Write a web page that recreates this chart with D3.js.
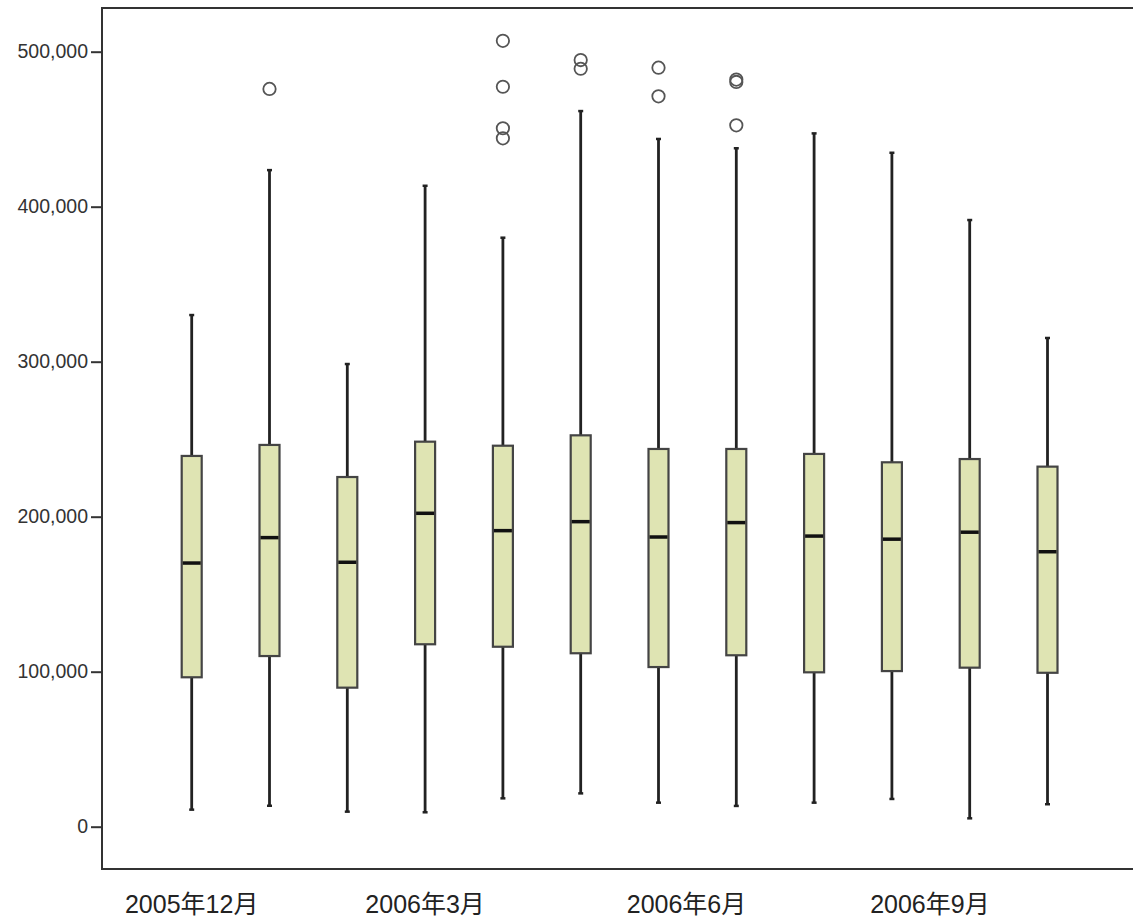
<!DOCTYPE html>
<html>
<head>
<meta charset="utf-8">
<script src="https://cdn.jsdelivr.net/npm/d3@7/dist/d3.min.js"></script>
<style>
  html, body { margin: 0; padding: 0; background: #fff; }
  svg { display: block; }
</style>
</head>
<body>
<script>
// ---- data ----
const categories = ["2005年12月","2006年1月","2006年2月","2006年3月","2006年4月","2006年5月",
                    "2006年6月","2006年7月","2006年8月","2006年9月","2006年10月","2006年11月"];
const shownLabels = ["2005年12月","2006年3月","2006年6月","2006年9月"];
const whiskerLow  = [11000, 13500, 9700, 9300, 18300, 21500, 15500, 13400, 15500, 17900, 5400, 14500];
const q1          = [96400, 110100, 89700, 117700, 116100, 111900, 103000, 110600, 99600, 100400, 102600, 99300];
const medians     = [170100, 186500, 170600, 202200, 191000, 196800, 186900, 196200, 187500, 185500, 190000, 177400];
const q3          = [239200, 246300, 225600, 248400, 245800, 252500, 243700, 243700, 240500, 235100, 237200, 232300];
const whiskerHigh = [330100, 423600, 298500, 413500, 380000, 461700, 443700, 437700, 447300, 434800, 391400, 315300];
const outliers    = [[], [476000], [], [], [507000, 477400, 450600, 444100], [494600, 489000],
                     [489700, 471200], [482000, 480500, 452500], [], [], [], []];
const yTicks = [0, 100000, 200000, 300000, 400000, 500000];

// ---- layout ----
const W = 1133, H = 922;
const frame = {left: 102, top: 8, right: 1145, bottom: 869};
const svg = d3.select("body").append("svg").attr("width", W).attr("height", H);

const x = d3.scalePoint().domain(categories).range([191.7, 1047.5]);
const y = d3.scaleLinear().domain([0, 500000]).range([826.7, 51.7]);
const boxW = 20;

// frame
svg.append("rect")
  .attr("x", frame.left).attr("y", frame.top)
  .attr("width", frame.right - frame.left).attr("height", frame.bottom - frame.top)
  .attr("fill", "none").attr("stroke", "#333").attr("stroke-width", 2);

// y axis
const yAxis = d3.axisLeft(y).tickValues(yTicks).tickFormat(d3.format(",")).tickSize(11).tickPadding(3);
const gy = svg.append("g").attr("transform", `translate(${frame.left},0)`).call(yAxis);
gy.select(".domain").remove();
gy.selectAll(".tick line").attr("stroke", "#333").attr("stroke-width", 2);
gy.selectAll(".tick text")
  .attr("fill", "#333")
  .style("font-family", "'Liberation Sans', Arial, sans-serif")
  .style("font-size", "19.5px");

// x labels
const labelNudge = {"2006年6月": 28, "2006年9月": 38};
svg.append("g").selectAll("text").data(shownLabels).join("text")
  .attr("x", d => x(d) + (labelNudge[d] || 0))
  .attr("y", 913)
  .attr("text-anchor", "middle")
  .attr("fill", "#222")
  .style("font-family", "'Liberation Sans', 'Noto Sans CJK SC', sans-serif")
  .style("font-size", "25px")
  .text(d => d);

// boxes
const data = categories.map((c, i) => ({c, lo: whiskerLow[i], q1: q1[i], med: medians[i], q3: q3[i], hi: whiskerHigh[i], out: outliers[i]}));
const g = svg.append("g").selectAll("g").data(data).join("g");

// whiskers
g.append("line")
  .attr("x1", d => x(d.c)).attr("x2", d => x(d.c))
  .attr("y1", d => y(d.hi)).attr("y2", d => y(d.q3))
  .attr("stroke", "#222").attr("stroke-width", 2.8);
g.append("line")
  .attr("x1", d => x(d.c)).attr("x2", d => x(d.c))
  .attr("y1", d => y(d.q1)).attr("y2", d => y(d.lo))
  .attr("stroke", "#222").attr("stroke-width", 2.8);
// caps
g.append("line")
  .attr("x1", d => x(d.c) - 2.5).attr("x2", d => x(d.c) + 2.5)
  .attr("y1", d => y(d.hi)).attr("y2", d => y(d.hi))
  .attr("stroke", "#222").attr("stroke-width", 2.5);
g.append("line")
  .attr("x1", d => x(d.c) - 2.5).attr("x2", d => x(d.c) + 2.5)
  .attr("y1", d => y(d.lo)).attr("y2", d => y(d.lo))
  .attr("stroke", "#222").attr("stroke-width", 2.5);

// box
g.append("rect")
  .attr("x", d => x(d.c) - boxW / 2).attr("width", boxW)
  .attr("y", d => y(d.q3)).attr("height", d => y(d.q1) - y(d.q3))
  .attr("fill", "#dfe4b3").attr("stroke", "#444").attr("stroke-width", 2.2);

// median
g.append("line")
  .attr("x1", d => x(d.c) - boxW / 2 + 1).attr("x2", d => x(d.c) + boxW / 2 - 1)
  .attr("y1", d => y(d.med)).attr("y2", d => y(d.med))
  .attr("stroke", "#111").attr("stroke-width", 3.5);

// outliers
g.selectAll("circle").data(d => d.out.map(v => ({c: d.c, v}))).join("circle")
  .attr("cx", d => x(d.c)).attr("cy", d => y(d.v)).attr("r", 6.2)
  .attr("fill", "none").attr("stroke", "#555").attr("stroke-width", 1.8);
</script>
</body>
</html>
